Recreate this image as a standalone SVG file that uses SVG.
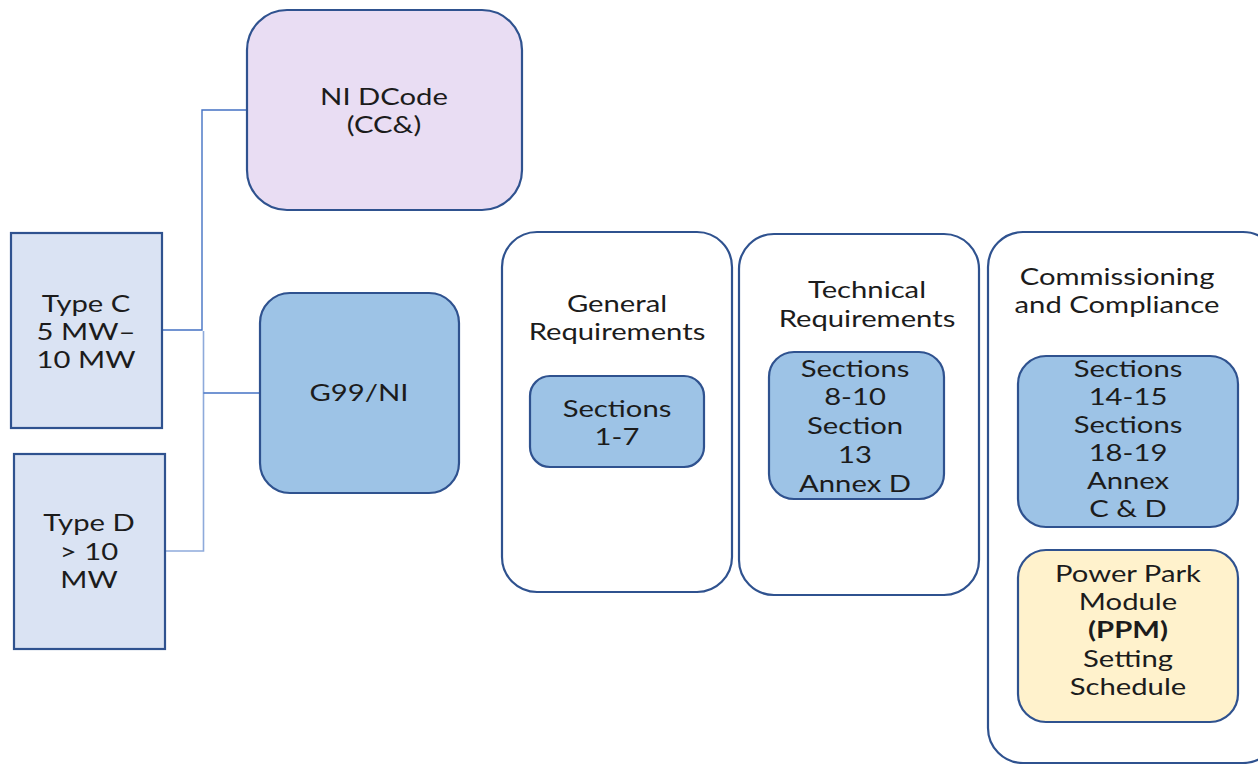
<svg xmlns="http://www.w3.org/2000/svg" width="1258" height="764" viewBox="0 0 1258 764">
  <style>
    .box { stroke: #2f528f; stroke-width: 2.2; }
    .type { fill: #dae3f3; }
    .code { fill: #e9ddf3; }
    .std { fill: #9dc3e6; }
    .group { fill: #ffffff; }
    .ppm { fill: #fff2cc; }
    .lbl { font-family: Lato, "Open Sans", "Liberation Sans", sans-serif; font-size: 22.5px; fill: #1c1c1c; text-anchor: middle; }
    .b { font-weight: bold; }
    .wire { stroke: #4472c4; stroke-width: 1.4; fill: none; }
    .wire2 { stroke: #8eaadb; stroke-width: 1.6; fill: none; }
  </style>

  <!-- connectors -->
  <g id="connectors">
    <polyline class="wire" points="162,330 202,330 202,110 247,110"/>
    <polyline class="wire2" points="203.5,331 203.5,551 165,551"/>
    <line class="wire" x1="203.5" y1="393" x2="260" y2="393"/>
  </g>

  <!-- generator types -->
  <g id="type-c">
    <rect class="box type" x="11" y="233" width="151" height="195"/>
    <text class="lbl" transform="translate(86 0) scale(1.3 1)"><tspan x="0" y="312">Type C</tspan><tspan x="0" y="340">5 MW–</tspan><tspan x="0" y="368">10 MW</tspan></text>
  </g>
  <g id="type-d">
    <rect class="box type" x="14" y="454" width="151" height="195"/>
    <text class="lbl" transform="translate(89 0) scale(1.3 1)"><tspan x="0" y="531">Type D</tspan><tspan x="0" y="560">&gt; 10</tspan><tspan x="0" y="588">MW</tspan></text>
  </g>

  <!-- codes -->
  <g id="ni-dcode">
    <rect class="box code" x="247" y="10" width="275" height="200" rx="40"/>
    <text class="lbl" transform="translate(384 0) scale(1.3 1)"><tspan x="0" y="105">NI DCode</tspan><tspan x="0" y="133">(CC&amp;)</tspan></text>
  </g>
  <g id="g99-ni">
    <rect class="box std" x="260" y="293" width="199" height="200" rx="30"/>
    <text class="lbl" transform="translate(359 0) scale(1.3 1)"><tspan x="0" y="401">G99/NI</tspan></text>
  </g>

  <!-- general requirements -->
  <g id="general">
    <rect class="box group" x="502" y="232" width="230" height="360" rx="35"/>
    <text class="lbl" transform="translate(617 0) scale(1.3 1)"><tspan x="0" y="312">General</tspan><tspan x="0" y="340">Requirements</tspan></text>
  </g>
  <g id="sections-1-7">
    <rect class="box std" x="530" y="376" width="174" height="91" rx="20"/>
    <text class="lbl" transform="translate(617 0) scale(1.3 1)"><tspan x="0" y="417">Sections</tspan><tspan x="0" y="445">1-7</tspan></text>
  </g>

  <!-- technical requirements -->
  <g id="technical">
    <rect class="box group" x="739" y="234" width="240" height="361" rx="35"/>
    <text class="lbl" transform="translate(867 0) scale(1.3 1)"><tspan x="0" y="298">Technical</tspan><tspan x="0" y="327">Requirements</tspan></text>
  </g>
  <g id="sections-8-13">
    <rect class="box std" x="769" y="352" width="175" height="147" rx="25"/>
    <text class="lbl" transform="translate(855 0) scale(1.3 1)"><tspan x="0" y="377">Sections</tspan><tspan x="0" y="405">8-10</tspan><tspan x="0" y="434">Section</tspan><tspan x="0" y="463">13</tspan><tspan x="0" y="492">Annex D</tspan></text>
  </g>

  <!-- commissioning and compliance -->
  <g id="commissioning">
    <rect class="box group" x="988" y="232" width="290" height="531" rx="35"/>
    <text class="lbl" transform="translate(1117 0) scale(1.3 1)"><tspan x="0" y="285">Commissioning</tspan><tspan x="0" y="313">and Compliance</tspan></text>
  </g>
  <g id="sections-14-19">
    <rect class="box std" x="1018" y="356" width="220" height="171" rx="28"/>
    <text class="lbl" transform="translate(1128 0) scale(1.3 1)"><tspan x="0" y="377">Sections</tspan><tspan x="0" y="405">14-15</tspan><tspan x="0" y="433">Sections</tspan><tspan x="0" y="461">18-19</tspan><tspan x="0" y="489">Annex</tspan><tspan x="0" y="517">C &amp; D</tspan></text>
  </g>
  <g id="ppm-schedule">
    <rect class="box ppm" x="1018" y="550" width="220" height="172" rx="28"/>
    <text class="lbl" transform="translate(1128 0) scale(1.3 1)"><tspan x="0" y="582">Power Park</tspan><tspan x="0" y="610">Module</tspan><tspan x="0" y="638" class="b">(PPM)</tspan><tspan x="0" y="667">Setting</tspan><tspan x="0" y="695">Schedule</tspan></text>
  </g>
</svg>
